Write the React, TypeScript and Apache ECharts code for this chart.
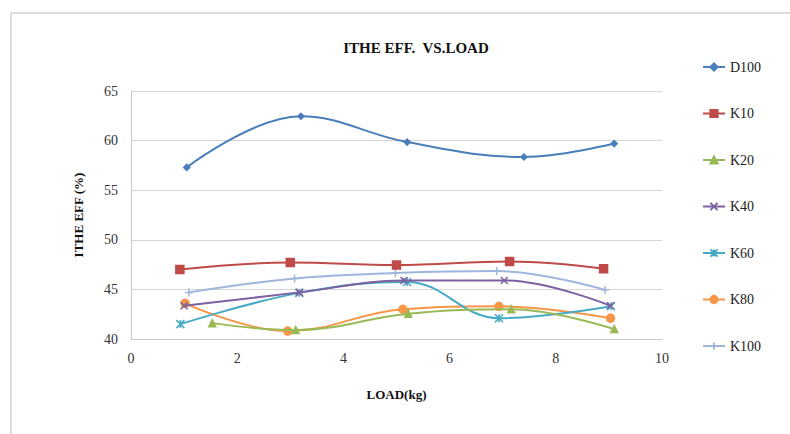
import React, { useEffect, useRef } from "react";
import * as echarts from "echarts";

const seriesNames = ["D100", "K10", "K20", "K40", "K60", "K80", "K100"];

const d100X = [1.05, 3.2, 5.2, 7.4, 9.1];
const d100Y = [57.3, 62.45, 59.85, 58.35, 59.7];
const k10X = [0.92, 3.0, 5.0, 7.13, 8.9];
const k10Y = [47.0, 47.7, 47.45, 47.8, 47.07];
const k20X = [1.53, 3.1, 5.22, 7.16, 9.1];
const k20Y = [41.6, 40.9, 42.55, 43.0, 41.0];
const k40X = [1.0, 3.17, 5.14, 7.03, 9.03];
const k40Y = [43.35, 44.7, 45.9, 45.9, 43.35];
const k60X = [0.93, 3.17, 5.2, 6.93, 9.04];
const k60Y = [41.5, 44.65, 45.75, 42.1, 43.3];
const k80X = [1.02, 2.95, 5.12, 6.93, 9.03];
const k80Y = [43.6, 40.8, 43.0, 43.3, 42.1];
const k100X = [1.09, 3.08, 4.98, 6.89, 8.93];
const k100Y = [44.7, 46.1, 46.65, 46.85, 44.95];

const xTicks = [0, 2, 4, 6, 8, 10];
const yTicks = [40, 45, 50, 55, 60, 65];

const colors = ["#4a7ebb", "#be4b48", "#98b954", "#7d60a0", "#46aac5", "#f79646", "#9fb6dc"];
const symbols = [
  "diamond",
  "rect",
  "triangle",
  "path://M0,0L10,10M10,0L0,10",
  "path://M0,0L10,10M10,0L0,10M5,0L5,10",
  "circle",
  "path://M5,0L5,10M0,5L10,5",
];
const symbolSizes = [6, 8, 7, 7, 8, 8, 8];

const pairs = (xs: number[], ys: number[]) => xs.map((x, i) => [x, ys[i]]);
const allData = [
  pairs(d100X, d100Y),
  pairs(k10X, k10Y),
  pairs(k20X, k20Y),
  pairs(k40X, k40Y),
  pairs(k60X, k60Y),
  pairs(k80X, k80Y),
  pairs(k100X, k100Y),
];

const FONT = "Liberation Serif";

export default function App() {
  const ref = useRef<HTMLDivElement>(null);
  useEffect(() => {
    if (!ref.current) return;
    const chart = echarts.init(ref.current, undefined, { renderer: "svg" });
    chart.setOption({
      animation: false,
      backgroundColor: "#ffffff",
      color: colors,
      textStyle: { fontFamily: FONT },
      title: {
        text: "ITHE EFF.  VS.LOAD",
        left: 411,
        top: 35,
        textAlign: "center",
        textStyle: { fontFamily: FONT, fontSize: 15, fontWeight: "bold", color: "#111" },
      },
      graphic: [
        {
          type: "rect",
          shape: { x: 11, y: 13, width: 820, height: 460 },
          style: { fill: "none", stroke: "#cfcfcf", lineWidth: 1.5 },
          silent: true,
        },
      ],
      legend: {
        orient: "vertical",
        left: 697,
        top: 55,
        itemWidth: 22,
        itemHeight: 9,
        itemGap: 32.5,
        textStyle: { fontFamily: FONT, fontSize: 14, color: "#222" },
        data: seriesNames,
      },
      grid: { left: 131, right: 128, top: 91, bottom: 95, containLabel: false },
      xAxis: {
        type: "value",
        min: xTicks[0],
        max: xTicks[xTicks.length - 1],
        interval: 2,
        name: "LOAD(kg)",
        nameLocation: "middle",
        nameGap: 49,
        nameTextStyle: { fontFamily: FONT, fontSize: 13, fontWeight: "bold", color: "#111" },
        axisLine: { show: true, lineStyle: { color: "#c8c8c8", width: 1 } },
        axisTick: { show: false },
        splitLine: { show: false },
        axisLabel: { fontFamily: FONT, fontSize: 14, color: "#333", margin: 12 },
      },
      yAxis: {
        type: "value",
        min: yTicks[0],
        max: yTicks[yTicks.length - 1],
        interval: 5,
        name: "ITHE EFF (%)",
        nameLocation: "middle",
        nameGap: 46,
        nameTextStyle: { fontFamily: FONT, fontSize: 13, fontWeight: "bold", color: "#111" },
        axisLine: { show: true, lineStyle: { color: "#c8c8c8", width: 1 } },
        axisTick: { show: false },
        splitLine: { show: true, lineStyle: { color: "#d6d6d6", width: 1 } },
        axisLabel: { fontFamily: FONT, fontSize: 14, color: "#333", margin: 13 },
      },
      series: seriesNames.map((name, i) => ({
        name,
        type: "line",
        smooth: 0.4,
        data: allData[i],
        symbol: symbols[i],
        symbolSize: symbolSizes[i],
        showAllSymbol: true,
        lineStyle: { color: colors[i], width: 2 },
        itemStyle: { color: colors[i], borderColor: colors[i], borderWidth: 1.5 },
        z: 10 - i,
      })),
    });
    return () => chart.dispose();
  }, []);
  return (
    <div
      ref={ref}
      style={{ position: "fixed", left: 0, top: 0, width: 790, height: 434 }}
    />
  );
}
